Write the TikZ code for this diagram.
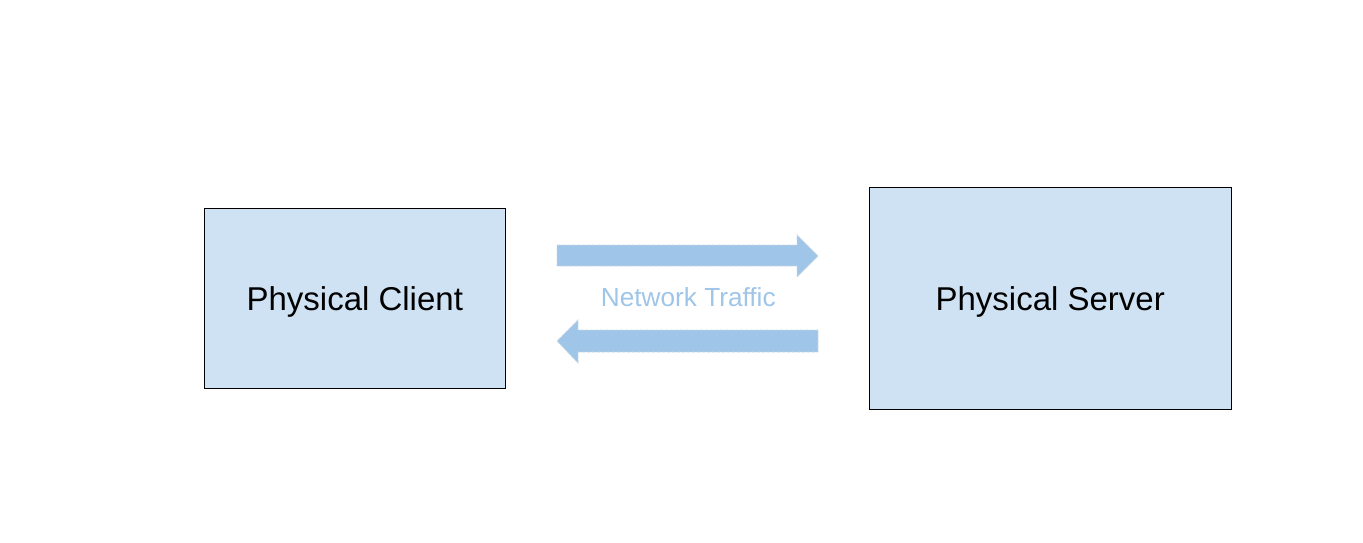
\documentclass[tikz,border=0pt]{standalone}
\usepackage{fontspec}
\setmainfont{Liberation Sans}
\definecolor{boxfill}{HTML}{CFE2F3}
\definecolor{arrowfill}{HTML}{9FC5E8}
\definecolor{arrowedge}{HTML}{C8D6E2}
\begin{document}
\begin{tikzpicture}[x=1pt,y=-1pt,
  hostbox/.style={draw=black,line width=1pt,fill=boxfill,inner sep=0pt,
    text height=23.6pt,text depth=0pt,font=\fontsize{33}{36}\selectfont},
  fatarrow/.style={fill=arrowfill,draw=arrowedge,dashed,line width=0.8pt,dash pattern=on 3pt off 2pt},
  lbl/.style={text=arrowfill,inner sep=0pt,anchor=base,font=\fontsize{26.2}{28}\selectfont}]
\useasboundingbox (0,0) rectangle (1363,543);
\node[hostbox,minimum width=301pt,minimum height=180pt] (client) at (354.8,298.3) {Physical Client};
\node[hostbox,minimum width=361.7pt,minimum height=222pt] (server) at (1050.2,298.3) {Physical Server};
\draw[fatarrow] (557,245) -- (797,245) -- (797,235) -- (818,256) -- (797,277) -- (797,266) -- (557,266) -- cycle;
\draw[fatarrow] (818,330) -- (578,330) -- (578,320) -- (557,341) -- (578,363) -- (578,352) -- (818,352) -- cycle;
\node[lbl] (traffic) at (688.3,306.9) {Network Traffic};
\end{tikzpicture}
\end{document}
